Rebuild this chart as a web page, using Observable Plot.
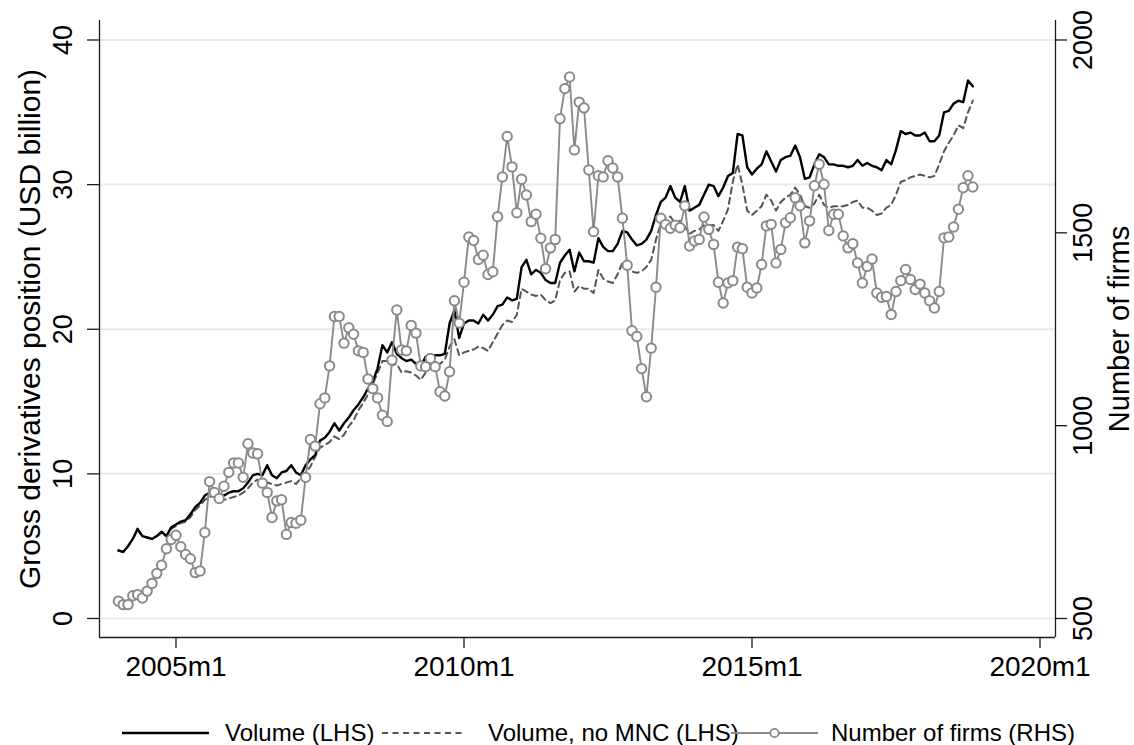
<!DOCTYPE html>
<html><head><meta charset="utf-8">
<script src="https://cdn.jsdelivr.net/npm/d3@7"></script>
<script src="https://cdn.jsdelivr.net/npm/@observablehq/plot@0.6"></script>
<style>
body{margin:0;background:#fff;font-family:"Liberation Sans",Arial,sans-serif;}
#chart svg{display:block;}
</style></head><body><div id="chart"></div><script>
// First observation: 2004m1, monthly
const startYear = 2004;
const volume = [
4.7,4.6,5.0,5.5,6.2,5.7,5.6,5.5,5.7,6.0,5.7,6.3,6.5,6.7,6.8,7.2,7.7,8.0,8.5,8.7,8.8,8.6,8.5,8.7,8.8,8.8,9.0,9.4,
9.9,10.0,9.9,10.6,9.9,9.7,10.1,10.2,10.6,10.1,9.9,10.6,11.0,11.3,12.3,12.5,12.9,13.5,13.0,13.5,13.9,14.4,14.8,15.3,15.9,16.4,17.3,18.9,18.4,19.1,18.3,18.0,17.8,17.9,17.6,
17.4,18.1,18.2,18.2,18.2,18.3,20.4,21.3,19.4,
20.4,20.6,20.6,20.4,21.0,20.6,21.0,21.6,21.7,22.2,22.0,22.1,24.3,24.8,23.8,24.1,23.9,23.4,23.2,23.2,24.6,25.1,25.5,
24.0,25.3,24.7,24.7,24.6,26.3,25.7,25.4,25.4,25.9,26.8,26.7,26.2,25.8,25.9,26.2,26.8,27.9,28.8,29.1,29.9,29.1,28.8,29.9,28.2,28.4,28.6,29.3,30.0,29.9,29.2,29.8,
30.6,30.8,33.5,33.4,31.2,30.7,31.1,31.4,32.3,31.6,30.9,31.7,31.9,32.0,32.7,31.9,30.4,30.5,31.4,32.1,31.9,31.4,31.4,31.3,
31.3,31.2,31.3,31.7,31.3,31.5,31.3,31.2,31.0,31.7,31.4,32.4,33.7,33.5,33.6,33.4,33.4,33.6,33.0,33.0,33.4,35.0,35.1,35.6,35.8,35.7,37.2,36.8
];
const volumeNoMNC = [
4.7,4.6,5.0,5.5,6.1,5.7,5.6,5.5,5.7,5.9,5.7,6.2,6.4,6.6,6.7,7.0,7.5,7.8,8.2,8.4,8.5,8.3,8.2,8.3,8.4,8.5,8.7,9.0,9.4,9.6,
9.5,9.4,9.3,9.2,9.3,9.4,9.5,9.3,9.7,10.1,10.5,11.2,11.8,12.0,12.2,12.6,12.4,12.7,13.3,13.7,14.4,14.9,15.5,16.2,17.0,17.8,17.8,17.5,17.6,17.0,17.1,17.0,16.8,
16.5,17.0,17.4,17.5,17.6,17.9,18.8,19.3,18.2,18.4,18.5,18.6,18.8,18.7,18.5,19.1,19.7,20.3,20.6,20.5,21.0,22.8,22.6,22.4,22.3,22.4,22.0,21.8,22.0,23.4,23.9,24.0,
22.6,23.0,22.8,22.8,22.5,24.1,23.5,23.3,23.2,23.8,24.6,24.4,24.0,23.9,24.0,24.3,24.8,26.2,27.3,27.7,27.8,27.3,27.5,27.1,26.6,26.8,26.9,27.2,27.2,27.2,26.8,27.5,
28.3,30.2,31.4,30.0,28.2,27.9,28.2,28.5,29.3,28.9,28.2,28.8,29.1,29.3,29.8,29.3,28.5,28.4,28.7,29.3,28.6,28.4,28.5,28.5,
28.5,28.6,28.8,28.9,28.4,28.4,28.2,27.9,28.0,28.4,28.6,29.3,30.2,30.3,30.5,30.6,30.7,30.6,30.5,30.6,31.4,32.3,32.9,33.4,34.1,33.9,35.0,35.8
];
const firms = [
545,536,536,559,562,553,571,591,617,638,681,705,716,686,666,655,619,623,723,855,827,811,843,879,903,903,866,953,929,927,851,827,762,
805,808,718,749,747,755,866,964,947,1057,1072,1155,1283,1283,1214,1254,1237,1194,1190,1121,1096,1072,1027,1011,1170,1300,1196,1194,1260,1240,1155,
1153,1174,1153,1088,1077,1140,1324,1266,1372,1489,1480,1431,1442,1392,1399,1542,1645,1750,1671,1552,1639,1598,1529,1548,1486,1407,1461,1483,1796,1874,1904,1715,
1839,1824,1663,1503,1648,1645,1687,1668,1645,1538,1416,1246,1231,1148,1075,1201,1359,1538,1522,1512,1520,1513,1570,1466,1479,1483,1541,1509,1470,1372,1318,
1370,1376,1463,1459,1359,1344,1357,1418,1518,1522,1422,1457,1526,1539,1591,1570,1474,1531,1622,1678,1626,1506,1548,1548,
1492,1461,1472,1422,1370,1413,1432,1344,1333,1335,1288,1348,1376,1405,1379,1353,1367,1344,1324,1305,1348,1487,1489,1515,1561,1617,1648,1619
];
const xTicks = [2005, 2010, 2015, 2020];
const leftTicks = [0, 10, 20, 30, 40];
const rightTicks = [500, 1000, 1500, 2000];
const leftTitle = "Gross derivatives position (USD billion)";
const rightTitle = "Number of firms";
const legendLabels = ["Volume (LHS)", "Volume, no MNC (LHS)", "Number of firms (RHS)"];

// right axis (firms) shares the left scale: 500 -> 0, 2000 -> 40
const toLeft = f => (f - 500) * 40 / 1500;

const rows = volume.map((v, i) => ({t: startYear + i / 12, volume: v, noMNC: volumeNoMNC[i], firms: firms[i]}));

const W = 1134, H = 705;
const font = '"Liberation Sans", Arial, sans-serif';
const xDomain = [2003.672, 2020.269];
const yDomain = [-1.314, 41.348];
const axisColor = "#1a1a1a";
const grey = "#8a8a8a";

const chart = Plot.plot({
  width: W, height: H,
  marginTop: 20, marginBottom: H - 637, marginLeft: 99, marginRight: 79,
  x: {domain: xDomain},
  y: {domain: yDomain},
  style: {fontFamily: font, color: "#000", background: "#fff", overflow: "visible"},
  marks: [
    Plot.ruleY(leftTicks, {stroke: "#e2edf0", strokeWidth: 2}),
    Plot.lineY(rows, {x: "t", y: "noMNC", stroke: "#555", strokeWidth: 2, strokeDasharray: "6,4.5"}),
    Plot.lineY(rows, {x: "t", y: "volume", stroke: "#000", strokeWidth: 2.4}),
    Plot.lineY(rows, {x: "t", y: d => toLeft(d.firms), stroke: grey, strokeWidth: 1.9}),
    Plot.dot(rows, {x: "t", y: d => toLeft(d.firms), r: 4.7, fill: "#fff", stroke: grey, strokeWidth: 2}),
    Plot.ruleX(xDomain, {stroke: axisColor, strokeWidth: 1.3}),
    Plot.ruleY([yDomain[0]], {stroke: axisColor, strokeWidth: 1.3}),
    Plot.axisX(xTicks, {tickSize: 11, tickPadding: 8, fontSize: 28, tickFormat: d => `${d}m1`, label: null, stroke: axisColor, strokeWidth: 1.3}),
    Plot.axisY(leftTicks, {anchor: "left", tickSize: 12, tickFormat: () => "", label: null, stroke: axisColor, strokeWidth: 1.3}),
    Plot.axisY(rightTicks.map(toLeft), {anchor: "right", tickSize: 11, tickFormat: () => "", label: null, stroke: axisColor, strokeWidth: 1.3}),
    Plot.text(leftTicks, {frameAnchor: "left", y: d => d, text: d => String(d), rotate: -90, dx: -36, fontSize: 27, textAnchor: "middle", lineAnchor: "middle"}),
    Plot.text(rightTicks, {frameAnchor: "right", y: d => toLeft(d), text: d => String(d), rotate: -90, dx: 28, fontSize: 27, textAnchor: "middle", lineAnchor: "middle"}),
    Plot.text([leftTitle], {frameAnchor: "left", text: d => d, rotate: -90, dx: -69, fontSize: 30, textAnchor: "middle", lineAnchor: "middle"}),
    Plot.text([rightTitle], {frameAnchor: "right", text: d => d, rotate: -90, dx: 64, fontSize: 29, textAnchor: "middle", lineAnchor: "middle"})
  ]
});
document.getElementById("chart").appendChild(chart);

// legend below the plot
const leg = d3.create("svg").attr("width", W).attr("height", 40).style("display", "block").style("font-family", font);
const ly = 28;
const items = [
  {x0: 122, x1: 209, tx: 225, stroke: "#000", w: 2.4, dash: null, dot: false},
  {x0: 382, x1: 465, tx: 488, stroke: "#555", w: 2, dash: "6,4.5", dot: false},
  {x0: 731, x1: 818, tx: 831, stroke: grey, w: 2, dash: null, dot: true}
];
items.forEach((it, i) => {
  leg.append("line").attr("x1", it.x0).attr("x2", it.x1).attr("y1", ly).attr("y2", ly)
    .attr("stroke", it.stroke).attr("stroke-width", it.w).attr("stroke-dasharray", it.dash);
  if (it.dot) leg.append("circle").attr("cx", (it.x0 + it.x1) / 2).attr("cy", ly).attr("r", 4.2)
    .attr("fill", "#fff").attr("stroke", it.stroke).attr("stroke-width", 1.8);
  leg.append("text").attr("x", it.tx).attr("y", ly).attr("dy", "0.35em").attr("font-size", 24)
    .attr("fill", "#000").text(legendLabels[i]);
});
document.getElementById("chart").appendChild(leg.node());
</script></body></html>
